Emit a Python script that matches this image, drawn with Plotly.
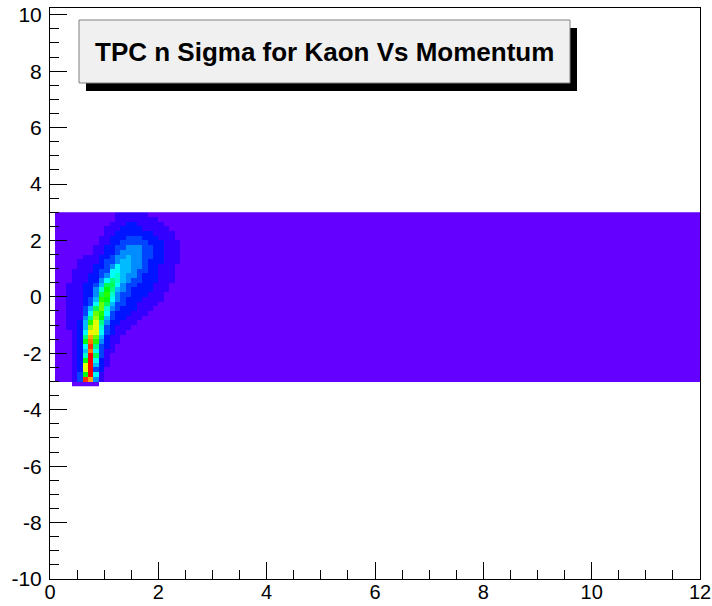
import numpy as np
import plotly.graph_objects as go

# ---- histogram binning (ROOT TH2): x 0..12 in 0.1 bins, y bins of 1/6 ----
x_lo, x_hi, n_xbins = 0.0, 12.0, 120
y_bin = 1.0 / 6.0
y_lo = -3.0 - y_bin          # lowest filled row starts here
n_ybins = 37

# ---- colour-level content per cell (ROOT COL, 20 contour levels) ----
# rows listed from top (y = 3) to bottom; columns x = 0.0, 0.1, ... 2.5
# '.' = empty bin (not drawn); columns beyond 2.5 are background level 0
blob_rows = [
    ". 0 0 0 0 0 0 0 0 0 0 0 1 1 1 1 1 1 0 0 0 0 0 0 0 0",
    ". 0 0 0 0 0 0 0 0 0 0 0 1 1 1 1 1 1 1 1 0 0 0 0 0 0",
    ". 0 0 0 0 0 0 0 0 0 0 1 1 1 2 2 1 1 1 1 1 0 0 0 0 0",
    ". 0 0 0 0 0 0 0 0 0 1 1 1 2 2 2 2 1 1 1 1 1 0 0 0 0",
    ". 0 0 0 0 0 0 0 0 0 1 1 2 2 2 2 2 2 2 1 1 1 1 0 0 0",
    ". 0 0 0 0 0 0 0 0 1 1 2 2 2 3 3 3 2 2 2 1 1 1 0 0 0",
    ". 0 0 0 0 0 0 0 0 1 1 2 2 3 3 3 3 3 2 2 2 1 1 1 0 0",
    ". 0 0 0 0 0 0 0 1 1 2 2 3 3 4 4 4 3 3 2 2 1 1 1 0 0",
    ". 0 0 0 0 0 0 0 1 1 2 2 3 4 4 4 4 3 3 2 2 1 1 1 0 0",
    ". 0 0 0 0 0 1 1 1 2 2 3 4 4 5 4 4 3 3 2 2 1 1 1 0 0",
    ". 0 0 0 0 1 1 1 1 2 3 3 4 5 5 4 4 3 2 2 2 1 1 1 0 0",
    ". 0 0 0 0 1 1 1 2 2 3 4 6 5 5 4 4 3 2 2 1 1 1 0 0 0",
    ". 0 0 0 1 1 1 1 2 3 3 6 6 5 5 4 3 3 2 2 1 1 1 0 0 0",
    ". 0 0 0 1 1 1 2 2 3 4 6 7 5 4 4 3 2 2 2 1 1 1 0 0 0",
    ". 0 0 0 1 1 1 2 2 4 6 8 7 5 4 3 3 2 2 2 1 1 1 0 0 0",
    ". 0 0 1 1 1 2 2 3 5 9 9 6 4 3 3 2 2 2 1 1 1 0 0 0 0",
    ". 0 0 1 1 1 2 2 4 7 10 8 5 4 3 2 2 2 2 1 1 1 0 0 0 0",
    ". 0 0 1 1 1 2 2 4 9 11 7 4 3 3 2 2 2 1 1 1 0 0 0 0 0",
    ". 0 0 1 1 1 2 3 5 11 10 6 4 3 2 2 2 1 1 1 1 0 0 0 0 0",
    ". 0 0 1 1 1 2 3 6 12 9 5 3 3 2 2 1 1 1 1 0 0 0 0 0 0",
    ". 0 0 1 1 1 3 5 9 12 7 4 3 2 2 2 1 1 1 0 0 0 0 0 0 0",
    ". 0 0 1 1 1 3 6 12 11 6 3 2 2 2 1 1 1 0 0 0 0 0 0 0 0",
    ". 0 0 1 1 1 4 8 13 10 5 3 2 2 1 1 1 0 0 0 0 0 0 0 0 0",
    ". 0 0 1 1 2 5 11 14 8 4 2 2 1 1 1 0 0 0 0 0 0 0 0 0 0",
    ". 0 0 1 1 2 5 13 14 7 3 2 1 1 1 0 0 0 0 0 0 0 0 0 0 0",
    ". 0 0 0 1 2 6 15 14 6 3 2 1 1 0 0 0 0 0 0 0 0 0 0 0 0",
    ". 0 0 0 1 2 8 16 12 5 2 1 1 0 0 0 0 0 0 0 0 0 0 0 0 0",
    ". 0 0 0 1 2 10 17 11 4 2 1 1 0 0 0 0 0 0 0 0 0 0 0 0 0",
    ". 0 0 0 1 2 6 18 8 3 2 1 0 0 0 0 0 0 0 0 0 0 0 0 0 0",
    ". 0 0 0 1 2 5 17 6 3 1 1 0 0 0 0 0 0 0 0 0 0 0 0 0 0",
    ". 0 0 0 1 2 7 19 9 3 1 0 0 0 0 0 0 0 0 0 0 0 0 0 0 0",
    ". 0 0 0 1 2 10 19 6 2 1 0 0 0 0 0 0 0 0 0 0 0 0 0 0 0",
    ". 0 0 0 1 2 14 19 5 2 1 0 0 0 0 0 0 0 0 0 0 0 0 0 0 0",
    ". 0 0 0 1 2 14 19 3 2 0 0 0 0 0 0 0 0 0 0 0 0 0 0 0 0",
    ". 0 0 0 1 3 10 19 6 1 0 0 0 0 0 0 0 0 0 0 0 0 0 0 0 0",
    ". 0 0 0 1 3 18 16 4 1 0 0 0 0 0 0 0 0 0 0 0 0 0 0 0 0",
    ". . . . 0 0 0 0 0 . . . . . . . . . . . . . . . . .",
]
background_level = 0

# ROOT "pretty" palette colours used for the 20 contour levels
level_colors = [
    "#6300ff", "#3300ff", "#0014ff", "#0044ff", "#008bff",
    "#00bbff", "#00fffc", "#00ffcc", "#00ff85", "#00ff55",
    "#00ff0e", "#22ff00", "#69ff00", "#99ff00", "#e0ff00",
    "#ffee00", "#ffa700", "#ff7700", "#ff3000", "#ff0000",
]

x_ticks = [0, 2, 4, 6, 8, 10, 12]
y_ticks = [-10, -8, -6, -4, -2, 0, 2, 4, 6, 8, 10]
title_text = "TPC n Sigma for Kaon Vs Momentum"

# ---- build the z matrix ----
n_levels = len(level_colors)
z = np.full((n_ybins, n_xbins), np.nan)
for r, row in enumerate(blob_rows):
    toks = row.split()
    last_row = (r == len(blob_rows) - 1)
    for c in range(n_xbins):
        if c < len(toks):
            t = toks[c]
        else:
            t = "." if last_row else str(background_level)
        if t != ".":
            z[n_ybins - 1 - r, c] = int(t) + 0.5

x_edges = np.linspace(x_lo, x_hi, n_xbins + 1)
y_edges = y_lo + np.arange(n_ybins + 1) * y_bin

colorscale = []
for k, col in enumerate(level_colors):
    colorscale.append([k / n_levels, col])
    colorscale.append([(k + 1) / n_levels, col])

fig = go.Figure(go.Heatmap(
    x=x_edges, y=y_edges, z=z,
    zmin=0, zmax=n_levels, colorscale=colorscale,
    showscale=False, zsmooth=False, hoverinfo="skip",
))

W, H = 712, 606
L, R, T, B = 50, 12, 8, 27
pw, ph = W - L - R, H - T - B

def px(xp):
    return (xp - L) / pw

def py(yp):
    return (H - B - yp) / ph

font_family = "Liberation Sans, Arial, Helvetica, sans-serif"
axis_common = dict(
    showgrid=False, zeroline=False, showline=True, linecolor="black",
    linewidth=1, mirror=True, ticks="inside", ticklen=17, tickwidth=1,
    tickcolor="black",
    minor=dict(ticks="inside", ticklen=9, tickwidth=1, tickcolor="black", dtick=0.5, tick0=0),
    automargin=False,
)

fig.update_layout(
    width=W, height=H,
    margin=dict(l=L, r=R, t=T, b=B),
    paper_bgcolor="white", plot_bgcolor="white",
    xaxis=dict(range=[0, 12], tickvals=x_ticks, ticktext=[str(v) for v in x_ticks],
               ticklabelstandoff=-5,
               tickfont=dict(family=font_family, size=20, color="black"), **axis_common),
    yaxis=dict(range=[-10, 10.24], tickvals=y_ticks, ticktext=[str(v) for v in y_ticks],
               ticklabelstandoff=3,
               tickfont=dict(family=font_family, size=21, color="black"), **axis_common),
    showlegend=False,
    shapes=[
        dict(type="rect", xref="paper", yref="paper", layer="above",
             x0=px(86), x1=px(577), y0=py(91), y1=py(28),
             fillcolor="black", line=dict(width=0)),
        dict(type="rect", xref="paper", yref="paper", layer="above",
             x0=px(79), x1=px(570), y0=py(83), y1=py(20),
             fillcolor="#f0f0f0", line=dict(color="#808080", width=1)),
    ],
    annotations=[
        dict(text="<b>" + title_text + "</b>", xref="paper", yref="paper",
             x=px(324.5), y=py(51.5), xanchor="center", yanchor="middle",
             showarrow=False, font=dict(family=font_family, size=26, color="black")),
    ],
)

fig.write_html("out.html")
